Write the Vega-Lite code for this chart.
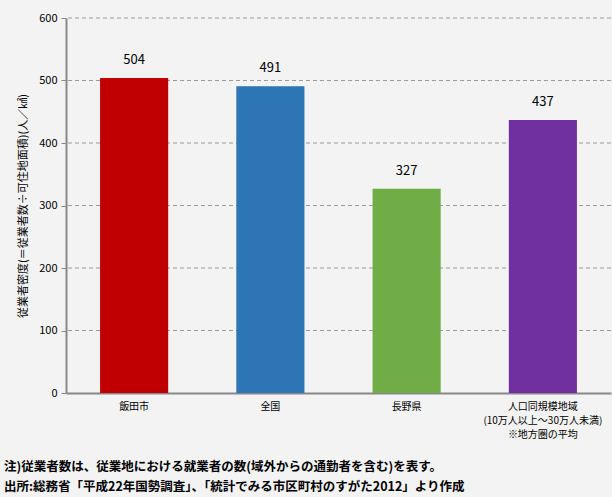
{
  "$schema": "https://vega.github.io/schema/vega-lite/v6.json",
  "width": 612,
  "height": 497,
  "autosize": {"type": "fit", "contains": "padding"},
  "padding": {"left": 4, "top": 12, "right": 0, "bottom": 3},
  "background": "#f3f3f3",
  "config": {
    "font": "Noto Sans CJK JP",
    "view": {"stroke": null}
  },
  "title": {
    "text": ["注)従業者数は、従業地における就業者の数(域外からの通勤者を含む)を表す。", "出所:総務省「平成22年国勢調査」、「統計でみる市区町村のすがた2012」より作成"],
    "orient": "bottom",
    "anchor": "start",
    "frame": "group",
    "offset": 22,
    "fontSize": 12.5,
    "fontWeight": "bold",
    "color": "#000000",
    "lineHeight": 20,
    "dx": -62
  },
  "datasets": {
    "bars": [
      {"region": "飯田市", "value": 504, "color": "#C00000"},
      {"region": "全国", "value": 491, "color": "#2E75B6"},
      {"region": "長野県", "value": 327, "color": "#70AD47"},
      {"region": "人口同規模地域\n(10万人以上～30万人未満)\n※地方圏の平均", "value": 437, "color": "#7030A0"}
    ],
    "grid": [
      {"g": 100}, {"g": 200}, {"g": 300}, {"g": 400}, {"g": 500}, {"g": 600}
    ]
  },
  "layer": [
    {
      "data": {"name": "grid"},
      "mark": {"type": "rule", "color": "#999999", "strokeWidth": 1, "strokeDash": [4, 3]},
      "encoding": {
        "y": {"field": "g", "type": "quantitative"}
      }
    },
    {
      "data": {"name": "bars"},
      "mark": {"type": "bar"},
      "encoding": {
        "x": {
          "field": "region",
          "type": "nominal",
          "sort": null,
          "scale": {"paddingInner": 0.5, "paddingOuter": 0.25},
          "axis": {
            "title": null,
            "labelAngle": 0,
            "labelExpr": "split(datum.label, '\\n')",
            "labelFontSize": 10,
            "labelColor": "#000000",
            "labelPadding": 8,
            "labelLineHeight": 14,
            "ticks": false,
            "domainColor": "#888888",
            "domainWidth": 2
          }
        },
        "y": {
          "field": "value",
          "type": "quantitative",
          "scale": {"domain": [0, 600]},
          "axis": {
            "grid": false,
            "tickCount": 6,
            "title": "従業者密度(＝従業者数÷可住地面積)(人／㎢)",
            "titleFontSize": 11,
            "titleFontWeight": "normal",
            "titleColor": "#000000",
            "titlePadding": 10,
            "labelFontSize": 11,
            "labelColor": "#000000",
            "labelPadding": 4,
            "tickSize": 5,
            "tickColor": "#888888",
            "domainColor": "#888888",
            "domainWidth": 2
          }
        },
        "color": {"field": "color", "type": "nominal", "scale": null}
      }
    },
    {
      "data": {"name": "bars"},
      "mark": {"type": "text", "dy": -18, "fontSize": 13, "color": "#000000"},
      "encoding": {
        "x": {"field": "region", "type": "nominal", "sort": null},
        "y": {"field": "value", "type": "quantitative"},
        "text": {"field": "value", "type": "quantitative"}
      }
    }
  ]
}
